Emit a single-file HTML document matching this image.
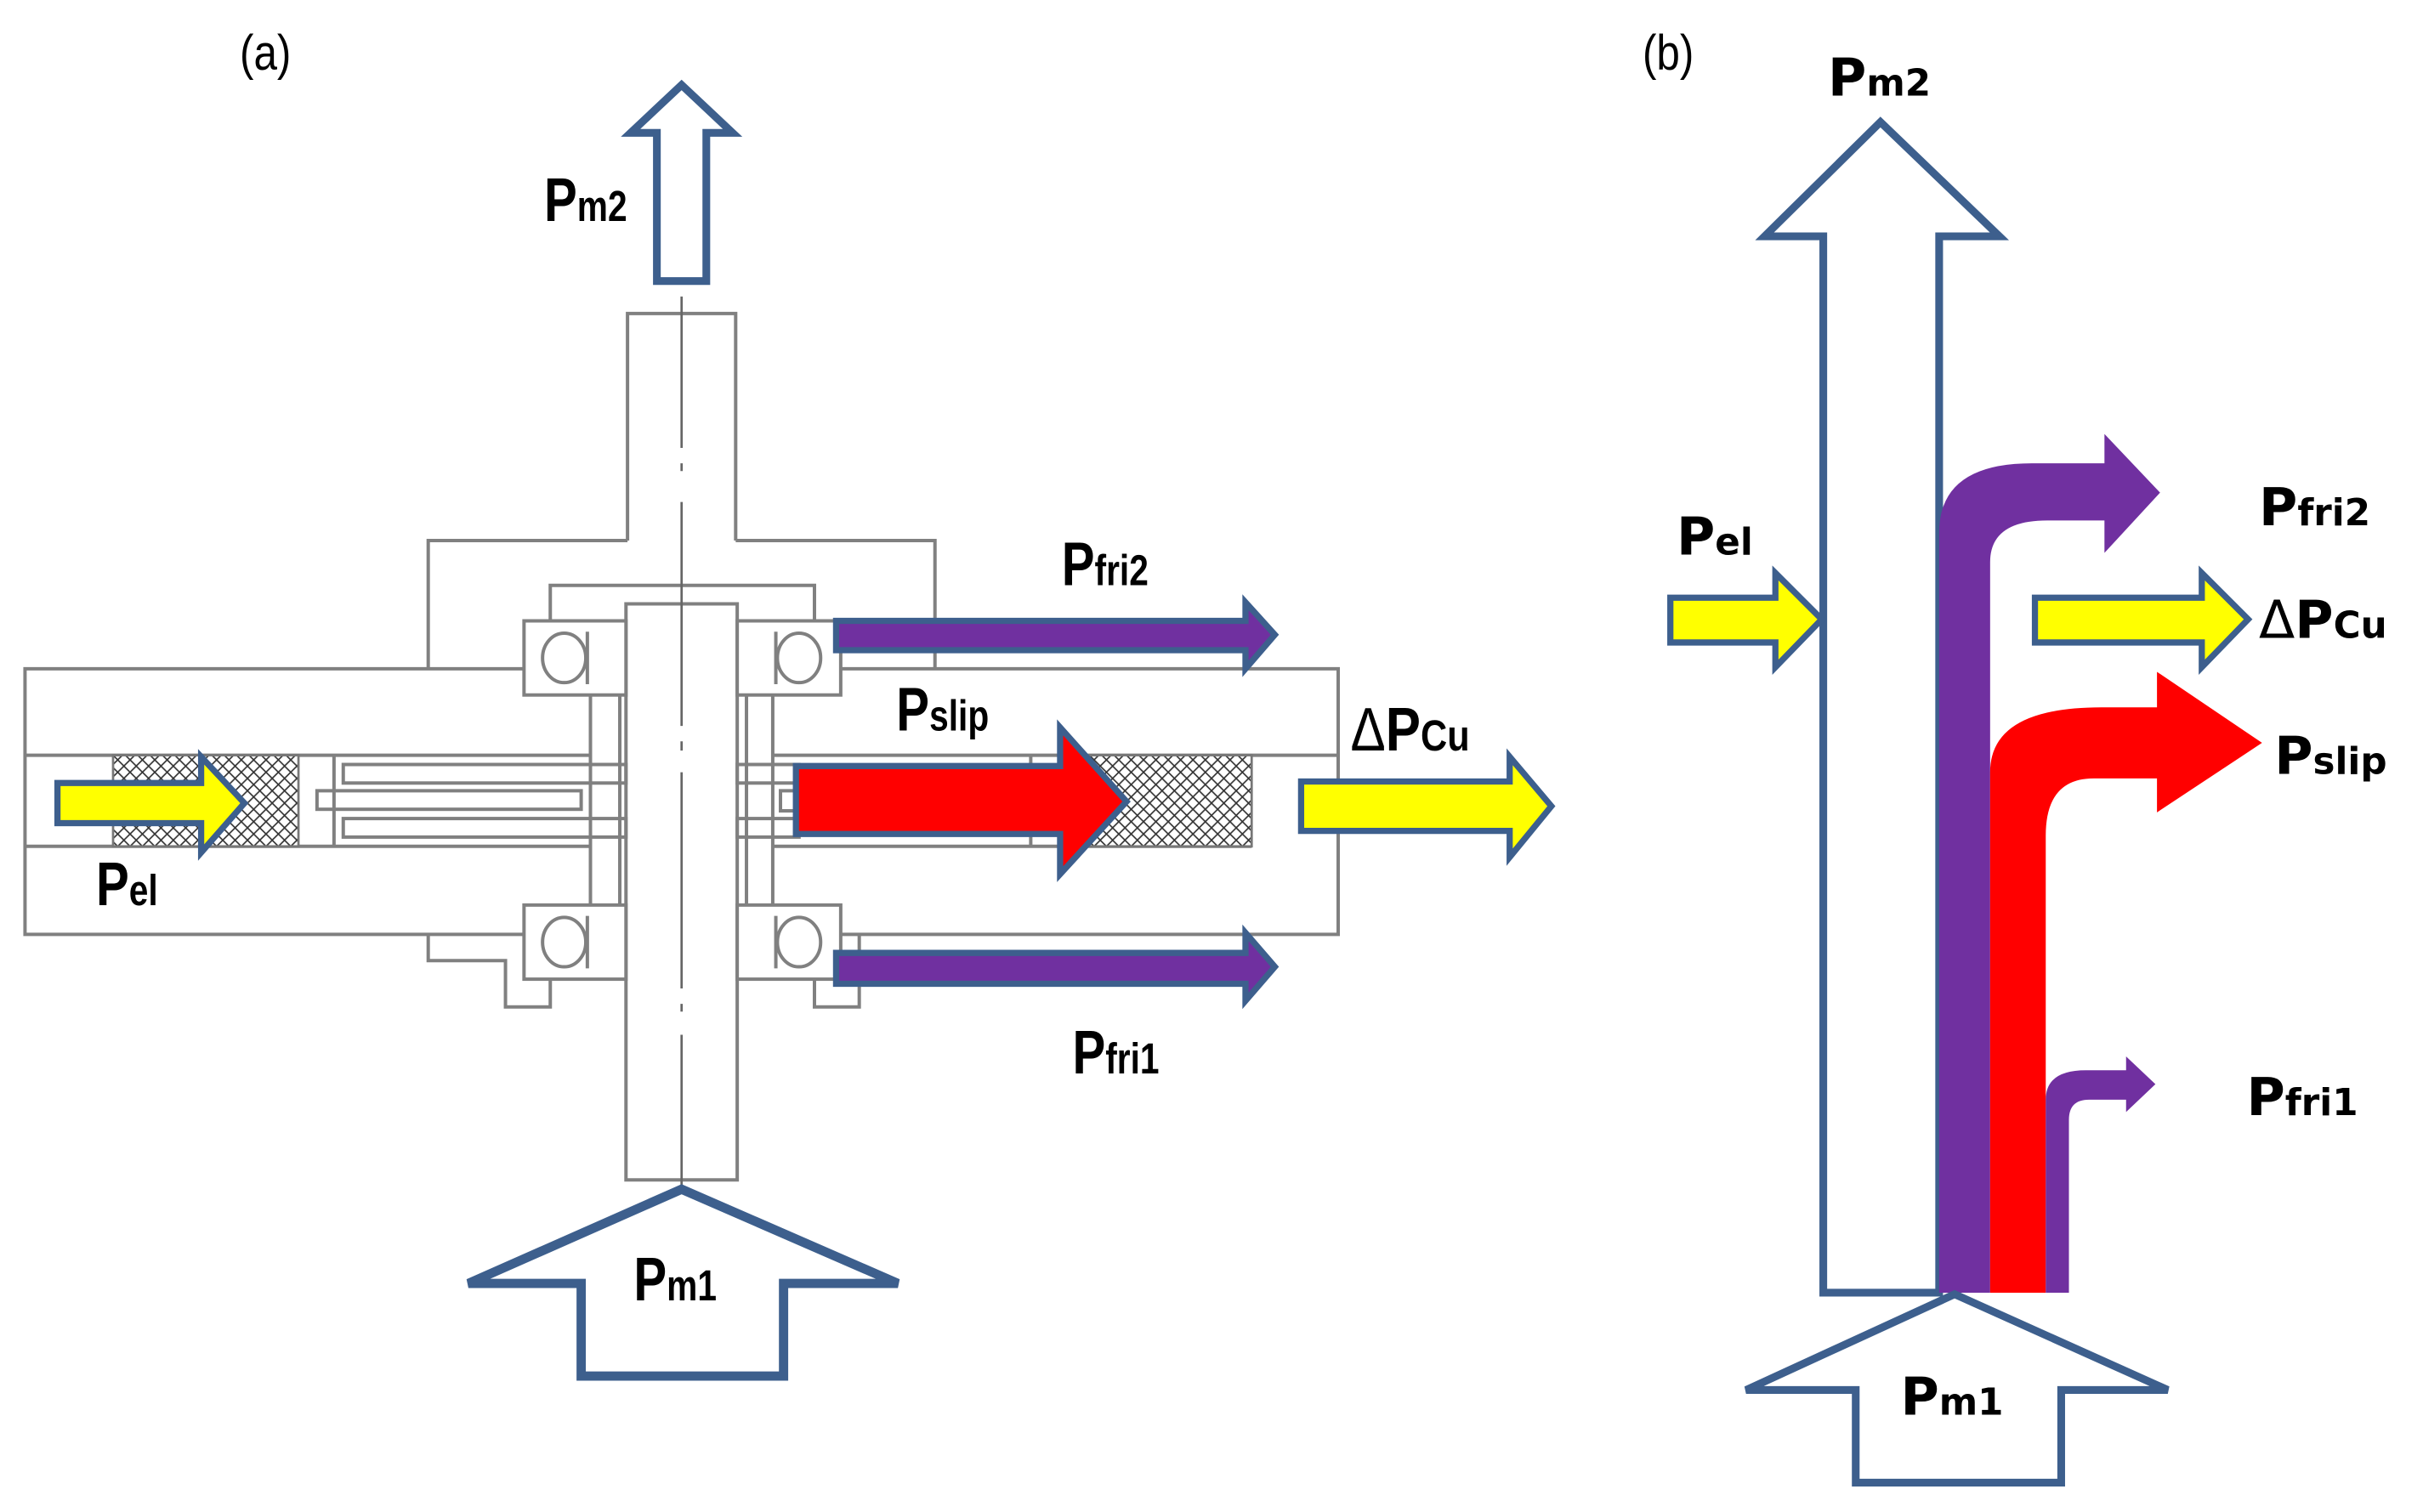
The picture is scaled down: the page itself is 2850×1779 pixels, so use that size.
<!DOCTYPE html>
<html><head><meta charset="utf-8"><style>
html,body{margin:0;padding:0;background:#fff;}
svg{display:block;}
.g{fill:none;stroke:#808080;stroke-width:2.2;}
.ga{font-family:"Liberation Sans",sans-serif;font-weight:bold;fill:#000;}
.gb{font-family:"DejaVu Sans","Liberation Sans",sans-serif;font-weight:bold;fill:#000;}
</style></head><body>
<svg width="2850" height="1779" viewBox="0 0 1568 979" xmlns="http://www.w3.org/2000/svg">
<defs>
<pattern id="hx" width="8" height="8" patternUnits="userSpaceOnUse">
<rect width="8" height="8" fill="#fff"/>
<path d="M0 0L8 8M8 0L0 8" stroke="#333" stroke-width="0.9"/>
</pattern>
</defs>
<rect width="1568" height="979" fill="#fff"/>

<text x="155" y="45" font-family="Liberation Sans,sans-serif" font-size="32" transform="translate(155 0) scale(0.85 1) translate(-155 0)">(a)</text>

<g class="g">
<path d="M406 350V203H476V350"/>
<path d="M277 433V350H406M476 350H605V433"/>
<path d="M356 402V379H527V402"/>
<path d="M405 391V764H477V391Z"/>
<!-- main body outline, interrupted at bearings -->
<path d="M339 433H16V605H339M544 433H866V605H544"/>
<path d="M16 489H382M500 489H866M16 548H382M500 548H810"/>
<path d="M216 489V548M667 489V548"/>
<rect x="222" y="495" width="183" height="12"/>
<rect x="205" y="512" width="171" height="12"/>
<rect x="222" y="530" width="183" height="12"/>
<rect x="477" y="495" width="40" height="12"/>
<rect x="477" y="530" width="40" height="12"/>
<rect x="505" y="512" width="10" height="13"/>
<path d="M382 450V586M401 450V586M483 450V586M500 450V586"/>
<rect x="339" y="402" width="66" height="48" fill="#fff"/>
<rect x="477" y="402" width="67" height="48" fill="#fff"/>
<rect x="339" y="586" width="66" height="48" fill="#fff"/>
<rect x="477" y="586" width="67" height="48" fill="#fff"/>
<ellipse cx="365" cy="426" rx="14" ry="16"/>
<ellipse cx="517" cy="426" rx="14" ry="16"/>
<ellipse cx="365" cy="610" rx="14" ry="16"/>
<ellipse cx="517" cy="610" rx="14" ry="16"/>
<path d="M380 409V443M502 409V443M380 593V627M502 593V627"/>
<path d="M277 605V622H327V652H356V634M527 634V652H556V605"/>
</g>
<rect x="73" y="489" width="120" height="59" fill="url(#hx)" stroke="#777" stroke-width="1.5"/>
<rect x="705" y="489" width="105" height="59" fill="url(#hx)" stroke="#777" stroke-width="1.5"/>
<path d="M441 192V290M441 300V305M441 325V470M441 480V486M441 500V640M441 650V655M441 670V786" stroke="#666" stroke-width="1.5" fill="none"/>

<path d="M425 182V86H408L441 55L474 86H457V182Z" fill="#fff" stroke="#3d5f8d" stroke-width="5" stroke-linejoin="miter"/>
<path d="M376 891V831H303L441 770L581 831H507V891Z" fill="#fff" stroke="#3d5f8d" stroke-width="6"/>

<path d="M541 402H806V390L825 411L806 433V421H541Z" fill="#7030a0" stroke="#3d5f8d" stroke-width="4"/>
<path d="M541 617H806V604L825 626L806 648V637H541Z" fill="#7030a0" stroke="#3d5f8d" stroke-width="4"/>
<path d="M515 496H686V471L729 519L686 566V540H515Z" fill="#f00" stroke="#3d5f8d" stroke-width="4"/>
<path d="M37 507H130V490L158 520L130 552V533H37Z" fill="#ff0" stroke="#3d5f8d" stroke-width="4"/>
<path d="M842 506H977V490L1004 522L977 555V538H842Z" fill="#ff0" stroke="#3d5f8d" stroke-width="4"/>

<g class="ga">
<text x="352" y="143" font-size="40" transform="translate(352 0) scale(0.8 1) translate(-352 0)">P<tspan font-size="28">m2</tspan></text>
<text x="687" y="379" font-size="40" transform="translate(687 0) scale(0.8 1) translate(-687 0)">P<tspan font-size="28">fri2</tspan></text>
<text x="580" y="473" font-size="40" transform="translate(580 0) scale(0.8 1) translate(-580 0)">P<tspan font-size="28">slip</tspan></text>
<text x="62" y="586" font-size="40" transform="translate(62 0) scale(0.8 1) translate(-62 0)">P<tspan font-size="28">el</tspan></text>
<text x="694" y="695" font-size="40" transform="translate(694 0) scale(0.8 1) translate(-694 0)">P<tspan font-size="28">fri1</tspan></text>
<text x="410" y="842" font-size="40" transform="translate(410 0) scale(0.8 1) translate(-410 0)">P<tspan font-size="28">m1</tspan></text>
<text x="874" y="486" font-size="40" transform="translate(874 0) scale(0.85 1) translate(-874 0)"><tspan font-weight="normal">Δ</tspan>P<tspan font-size="28">Cu</tspan></text>
</g>

<text x="1063" y="45" font-family="Liberation Sans,sans-serif" font-size="32" transform="translate(1063 0) scale(0.85 1) translate(-1063 0)">(b)</text>

<path d="M1180 837V153H1142L1217 79L1294 153H1255V837Z" fill="#fff" stroke="#3d5f8d" stroke-width="5"/>
<path d="M1255 837V345Q1255 300 1315 300H1362V281L1398 319L1362 358V337H1325Q1288 337 1288 364V837Z" fill="#7030a0"/>
<path d="M1288 837V500Q1288 458 1360 458H1396V435L1464 481L1396 526V504H1355Q1324 504 1324 541V837Z" fill="#f00"/>
<path d="M1324 837V712Q1324 693 1350 693H1376V684L1395 702L1376 720V712H1352Q1339 712 1339 725V837Z" fill="#7030a0"/>
<path d="M1201 960V900H1130L1265 838L1403 900H1334V960Z" fill="#fff" stroke="#3d5f8d" stroke-width="5"/>
<path d="M1081 387H1149V371L1179 401L1149 432V416H1081Z" fill="#ff0" stroke="#3d5f8d" stroke-width="4"/>
<path d="M1317 387H1425V371L1455 401L1425 432V416H1317Z" fill="#ff0" stroke="#3d5f8d" stroke-width="4"/>

<g class="gb">
<text x="1183" y="62" font-size="34">P<tspan font-size="24">m2</tspan></text>
<text x="1085" y="359" font-size="34">P<tspan font-size="24">el</tspan></text>
<text x="1462" y="340" font-size="34">P<tspan font-size="24">fri2</tspan></text>
<text x="1462" y="413" font-size="34"><tspan font-weight="normal">Δ</tspan>P<tspan font-size="24">Cu</tspan></text>
<text x="1472" y="501" font-size="34">P<tspan font-size="24">slip</tspan></text>
<text x="1454" y="722" font-size="34">P<tspan font-size="24">fri1</tspan></text>
<text x="1230" y="916" font-size="34">P<tspan font-size="24">m1</tspan></text>
</g>
</svg>
</body></html>
